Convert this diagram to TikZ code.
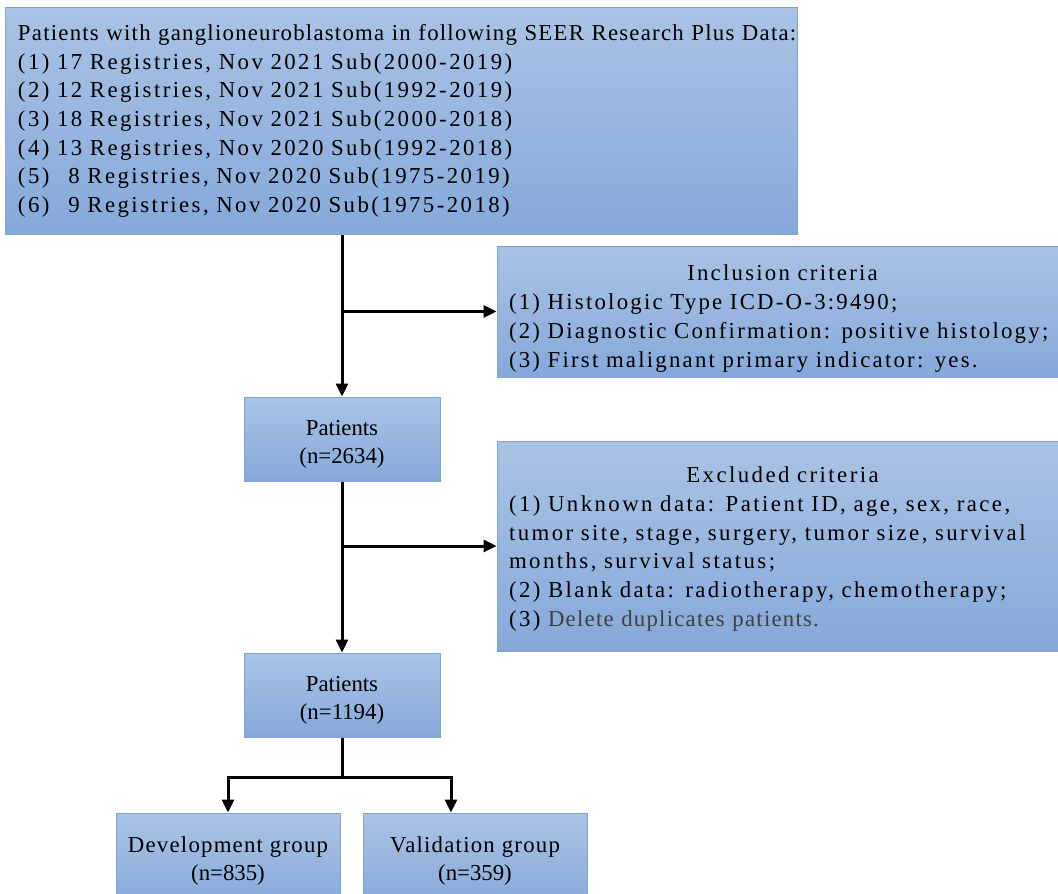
\documentclass[tikz,border=0pt]{standalone}
\usepackage{fontspec}
\setmainfont{Liberation Serif}
\newfontfamily\widefont[LetterSpace=10.7]{Liberation Serif}
\newfontfamily\incfont[LetterSpace=9.8]{Liberation Serif}
\newfontfamily\midfont[LetterSpace=5.4]{Liberation Serif}
\usetikzlibrary{arrows.meta}
\definecolor{boxtop}{RGB}{170,195,229}
\definecolor{boxbottom}{RGB}{134,168,218}
\definecolor{boxline}{RGB}{128,162,212}
\begin{document}
\begin{tikzpicture}[x=0.5pt,y=-0.5pt,
  box/.style={draw=boxline, line width=0.5pt, top color=boxtop, bottom color=boxbottom, inner sep=0pt, font=\fontsize{11.4}{14.35}\selectfont},
  arr/.style={line width=1.5pt, -{Triangle[length=6.5pt,width=6pt]}},
  link/.style={line width=1.5pt}]
\useasboundingbox (0,0) rectangle (1058,893);
\node[box, minimum width=396pt, minimum height=113pt, text width=383pt, inner xsep=6.5pt, align=left] (src) at (401,121)
  {\mbox{\midfont Patients with ganglioneuroblastoma in following SEER Research Plus Data:}\\
   \widefont (1) 17 Registries, Nov 2021 Sub(2000-2019)\\
   (2) 12 Registries, Nov 2021 Sub(1992-2019)\\
   (3) 18 Registries, Nov 2021 Sub(2000-2018)\\
   (4) 13 Registries, Nov 2020 Sub(1992-2018)\\
   (5) \phantom{1}8 Registries, Nov 2020 Sub(1975-2019)\\
   (6) \phantom{1}9 Registries, Nov 2020 Sub(1975-2018)};
\node[box, minimum width=285.5pt, minimum height=65.5pt, text width=273.5pt, inner xsep=6pt, align=left] (incl) at (782.5,311.5)
  {\incfont\rule{0pt}{15pt}\hspace*{\fill}Inclusion criteria\hspace*{\fill}\null\\
   (1) Histologic Type ICD-O-3:9490;\\
   \mbox{(2) Diagnostic Confirmation: positive histology;}\\
   (3) First malignant primary indicator: yes.};
\node[box, minimum width=98pt, minimum height=42pt, align=center] (p1) at (342,439) {\rule{0pt}{13pt}Patients\\(n=2634)};
\node[box, minimum width=285.5pt, minimum height=105pt, text width=273.5pt, inner xsep=6pt, align=left] (excl) at (782.5,546)
  {\widefont\rule{0pt}{11pt}\hspace*{\fill}Excluded criteria\hspace*{\fill}\null\\
   (1) Unknown data: Patient ID, age, sex, race,\\
   \mbox{tumor site, stage, surgery, tumor size, survival}\\
   months, survival status;\\
   (2) Blank data: radiotherapy, chemotherapy;\\
   (3) \textcolor{black!75}{\midfont Delete duplicates patients.}};
\node[box, minimum width=98pt, minimum height=42pt, align=center] (p2) at (342,695) {\rule{0pt}{13pt}Patients\\(n=1194)};
\node[box, minimum width=112pt, minimum height=48pt, align=center] (dev) at (228,861) {\midfont Development group\\(n=835)};
\node[box, minimum width=112pt, minimum height=48pt, align=center] (val) at (475,861) {\midfont Validation group\\(n=359)};
\draw[arr] (p1.north |- src.south) -- (p1.north);
\draw[arr] (p1.north |- incl.west) -- (incl.west);
\draw[arr] (p1.south) -- (p2.north);
\draw[arr] (p2.north |- excl.west) -- (excl.west);
\draw[link] (p2.south) -- ++(0,40) coordinate (split);
\draw[arr] (split) -| (dev.north);
\draw[arr] (split) -| ([xshift=-12pt]val.north);
\end{tikzpicture}
\end{document}
